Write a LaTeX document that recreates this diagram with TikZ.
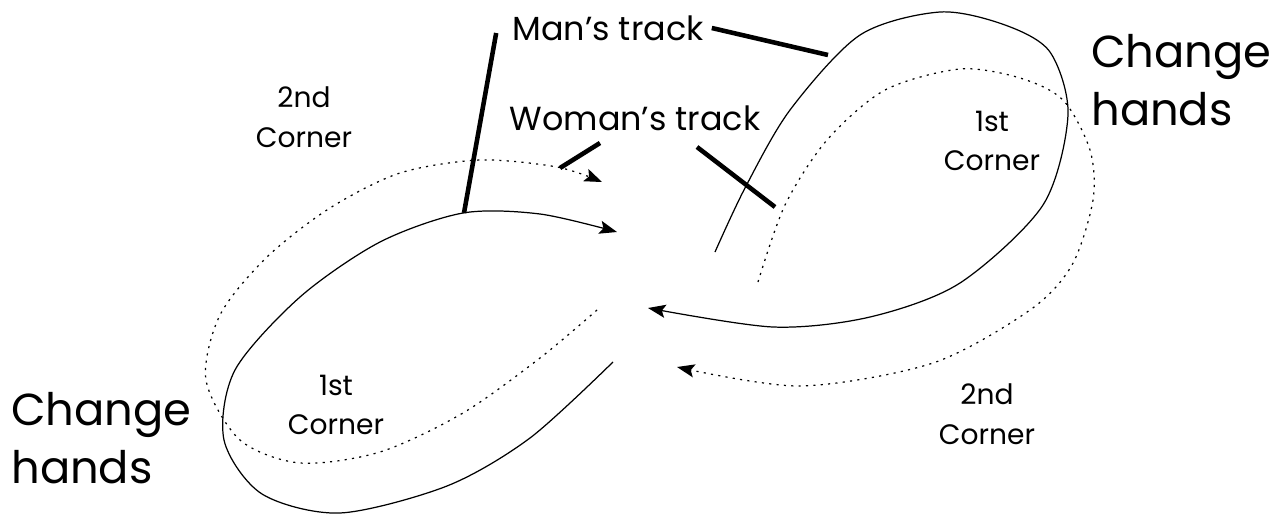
\documentclass[tikz,border=0pt]{standalone}
\usepackage{fontspec}
\setmainfont{Poppins}
\usetikzlibrary{arrows.meta}
\begin{document}
\begin{tikzpicture}[x=0.02cm,y=-0.02cm,
  man/.style={line width=0.7pt,-{Stealth[length=10pt,width=7.5pt,inset=2pt]}},
  woman/.style={line width=0.7pt,dash pattern=on 1.2pt off 3pt,-{Stealth[length=10pt,width=7.5pt,inset=2pt]}},
  leader/.style={line width=2.6pt},
  big/.style={font=\fontsize{25.5}{33}\selectfont,align=left,inner sep=0pt},
  corner/.style={font=\fontsize{16}{22.7}\selectfont,align=center,inner sep=0pt},
  track/.style={font=\fontsize{19}{24}\selectfont,inner sep=0pt}]
\useasboundingbox (0,0) rectangle (1279,514);
\node [track,anchor=base] (mantrack) at (608,40) {Man’s track};
\node [track,anchor=base] (womantrack) at (635,130) {Woman’s track};
\node [corner] (secondL) at (304,117) {2nd\\Corner};
\node [corner] (secondR) at (987,414) {2nd\\Corner};
\node [corner] (firstR) at (992,141) {1st\\Corner};
\node [corner] (firstL) at (336,405) {1st\\Corner};
\node [big,anchor=west] (changeR) at (1091,80) {Change\\hands};
\node [big,anchor=west] (changeL) at (11,438) {Change\\hands};
\coordinate (manL) at (464,213);
\coordinate (manR) at (828,55);
\coordinate (womanL) at (560,168);
\coordinate (womanR) at (775,207);
\draw [man] plot [smooth] coordinates {(613,362) (530,438) (447,486) (340,513) (262,494) (224,440) (235,370) (300,297) (380,242) (463,213) (540,214) (617,232)};
\draw [man] plot [smooth] coordinates {(715,252) (745,188) (790,110) (860,35) (940,12) (1005,25) (1050,52) (1068,115) (1043,205) (960,283) (870,317) (773,327) (648,308)};
\draw [woman] plot [smooth] coordinates {(597,310) (540,358) (463,413) (380,452) (300,463) (240,440) (206,380) (220,315) (267,257) (330,208) (400,173) (480,160) (557,167) (602,182)};
\draw [woman] plot [smooth] coordinates {(758,282) (785,205) (827,140) (885,90) (960,69) (1020,78) (1063,100) (1090,150) (1093,200) (1072,265) (1030,310) (933,363) (800,386) (677,367)};
\draw [leader] ([shift={(-16,-7)}]mantrack.base west) -- (manL);
\draw [leader] ([shift={(8,-12)}]mantrack.base east) -- (manR);
\draw [leader] ([shift={(-35,13)}]womantrack.base) -- (womanL);
\draw [leader] ([shift={(62,17)}]womantrack.base) -- (womanR);
\end{tikzpicture}
\end{document}
